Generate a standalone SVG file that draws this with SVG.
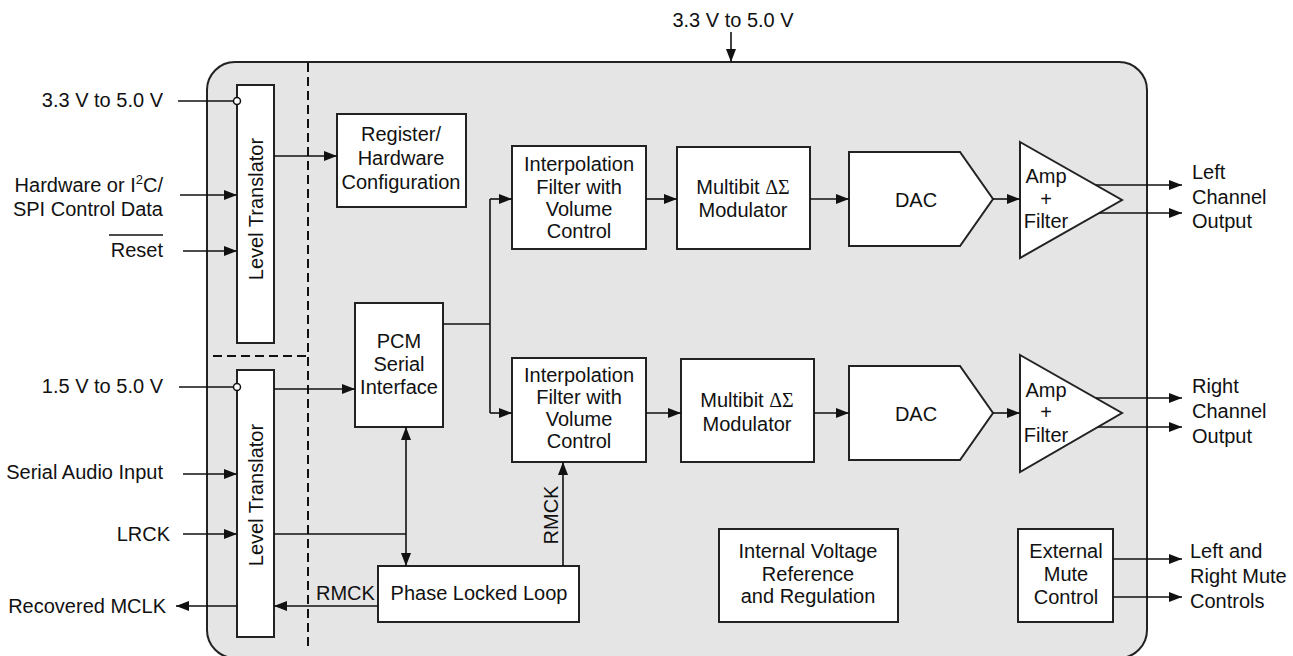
<svg xmlns="http://www.w3.org/2000/svg" width="1293" height="656" viewBox="0 0 1293 656">
<style>
text{font-family:"Liberation Sans",Arial,sans-serif;font-size:20px;fill:#111}
.c{text-anchor:middle}
.e{text-anchor:end}
.box{fill:#fff;stroke:#222;stroke-width:2}
.ln{fill:none;stroke:#111;stroke-width:1.6}
.arr{marker-end:url(#ah)}
.dash{fill:none;stroke:#111;stroke-width:2;stroke-dasharray:9,5}
.g{font-family:"Liberation Serif","Times New Roman",serif}
</style>
<defs>
<marker id="ah" viewBox="0 0 13 10" refX="13" refY="5" markerWidth="13" markerHeight="10" markerUnits="userSpaceOnUse" orient="auto-start-reverse"><path d="M0,0 L13,5 L0,10 z" fill="#111"/></marker>
</defs>
<g id="chip"><rect x="207" y="62" width="940" height="596" rx="28" ry="28" fill="#e5e5e5" stroke="#222" stroke-width="2"/></g>
<g id="dividers">
<line class="dash" x1="308" y1="63" x2="308" y2="646"/>
<line class="dash" x1="213" y1="356" x2="308" y2="356"/>
</g>
<g id="level-translator-top"><rect class="box" x="237" y="85" width="37" height="258"/><text class="c" transform="translate(262.5,209) rotate(-90)">Level Translator</text></g>
<g id="level-translator-bottom"><rect class="box" x="237" y="370" width="37" height="267"/><text class="c" transform="translate(262.5,495) rotate(-90)">Level Translator</text></g>
<g id="register"><rect class="box" x="337" y="114" width="129" height="93"/><text class="c" x="401" y="141">Register/</text><text class="c" x="401" y="165">Hardware</text><text class="c" x="401" y="189">Configuration</text></g>
<g id="pcm"><rect class="box" x="355" y="303" width="88" height="124"/><text class="c" x="399" y="348">PCM</text><text class="c" x="399" y="371">Serial</text><text class="c" x="399" y="394">Interface</text></g>
<g id="pll"><rect class="box" x="378" y="566" width="201" height="56"/><text class="c" x="479" y="600">Phase Locked Loop</text></g>
<g id="interp-top"><rect class="box" x="512" y="146" width="134" height="103"/><text class="c" x="579" y="171">Interpolation</text><text class="c" x="579" y="194">Filter with</text><text class="c" x="579" y="216">Volume</text><text class="c" x="579" y="238">Control</text></g>
<g id="interp-bottom"><rect class="box" x="512" y="358" width="134" height="104"/><text class="c" x="579" y="382">Interpolation</text><text class="c" x="579" y="404">Filter with</text><text class="c" x="579" y="426">Volume</text><text class="c" x="579" y="448">Control</text></g>
<g id="mod-top"><rect class="box" x="677" y="147" width="133" height="102"/><text class="c" x="743" y="194">Multibit <tspan class="g">ΔΣ</tspan></text><text class="c" x="743" y="217">Modulator</text></g>
<g id="mod-bottom"><rect class="box" x="681" y="359" width="133" height="103"/><text class="c" x="747" y="407">Multibit <tspan class="g">ΔΣ</tspan></text><text class="c" x="747" y="431">Modulator</text></g>
<g id="dac-top"><polygon class="box" points="849,152 960,152 993,199 960,246 849,246"/><text class="c" x="916" y="207">DAC</text></g>
<g id="dac-bottom"><polygon class="box" points="849,366 960,366 993,413 960,460 849,460"/><text class="c" x="916" y="421">DAC</text></g>
<g id="amp-top"><polygon class="box" points="1020,142 1122,200 1020,258"/><text class="c" x="1046" y="183">Amp</text><text class="c" x="1046" y="206">+</text><text class="c" x="1046" y="228">Filter</text></g>
<g id="amp-bottom"><polygon class="box" points="1020,355 1122,413 1020,472"/><text class="c" x="1046" y="397">Amp</text><text class="c" x="1046" y="419">+</text><text class="c" x="1046" y="442">Filter</text></g>
<g id="vref"><rect class="box" x="719" y="529" width="179" height="93"/><text class="c" x="808" y="558">Internal Voltage</text><text class="c" x="808" y="581">Reference</text><text class="c" x="808" y="603">and Regulation</text></g>
<g id="mute"><rect class="box" x="1018" y="529" width="95" height="93"/><text class="c" x="1066" y="558">External</text><text class="c" x="1066" y="581">Mute</text><text class="c" x="1066" y="604">Control</text></g>
<g id="connectors">
<path class="ln arr" d="M731,32 V62"/>
<path class="ln" d="M178,101 H233.5"/>
<circle cx="237" cy="101" r="3.5" fill="#fff" stroke="#111" stroke-width="1.5"/>
<path class="ln arr" d="M180,195 H237"/>
<path class="ln arr" d="M183,251 H237"/>
<path class="ln arr" d="M274,156 H337"/>
<path class="ln" d="M179,387 H233.5"/>
<circle cx="237" cy="387" r="3.5" fill="#fff" stroke="#111" stroke-width="1.5"/>
<path class="ln arr" d="M274,389 H355"/>
<path class="ln arr" d="M183,474 H237"/>
<path class="ln arr" d="M183,534 H237"/>
<path class="ln" d="M274,534 H406"/>
<path class="ln arr" d="M406,427 V566" marker-start="url(#ah)"/>
<path class="ln arr" d="M378,606 H274"/>
<path class="ln arr" d="M237,606 H176"/>
<path class="ln" d="M443,324 H490"/>
<path class="ln" d="M490,199 V413"/>
<path class="ln arr" d="M490,199 H512"/>
<path class="ln arr" d="M490,413 H512"/>
<path class="ln arr" d="M646,199 H677"/>
<path class="ln arr" d="M646,413 H681"/>
<path class="ln arr" d="M810,199 H849"/>
<path class="ln arr" d="M814,413 H849"/>
<path class="ln arr" d="M993,199 H1020"/>
<path class="ln arr" d="M993,413 H1020"/>
<path class="ln arr" d="M1096,185 H1182"/>
<path class="ln arr" d="M1099,213 H1182"/>
<path class="ln arr" d="M1096,398 H1182"/>
<path class="ln arr" d="M1098,427 H1182"/>
<path class="ln arr" d="M563,566 V462"/>
<path class="ln arr" d="M1113,559 H1182"/>
<path class="ln arr" d="M1113,597 H1182"/>
</g>
<g id="labels">
<text class="c" x="733" y="27">3.3 V to 5.0 V</text>
<text class="e" x="163" y="107">3.3 V to 5.0 V</text>
<text class="e" x="163" y="192">Hardware or I<tspan dy="-8" font-size="13">2</tspan><tspan dy="8">C/</tspan></text>
<text class="e" x="163" y="216">SPI Control Data</text>
<text class="e" x="163" y="257">Reset</text>
<line x1="109" y1="235" x2="163" y2="235" stroke="#111" stroke-width="1.5"/>
<text class="e" x="163" y="393">1.5 V to 5.0 V</text>
<text class="e" x="163" y="479">Serial Audio Input</text>
<text class="e" x="170" y="541">LRCK</text>
<text class="e" x="166" y="613">Recovered MCLK</text>
<text x="316" y="600">RMCK</text>
<text class="c" transform="translate(558,515) rotate(-90)">RMCK</text>
<text x="1192" y="179">Left</text><text x="1192" y="204">Channel</text><text x="1192" y="228">Output</text>
<text x="1192" y="393">Right</text><text x="1192" y="418">Channel</text><text x="1192" y="443">Output</text>
<text x="1190" y="558">Left and</text><text x="1190" y="583">Right Mute</text><text x="1190" y="608">Controls</text>
</g>
</svg>
